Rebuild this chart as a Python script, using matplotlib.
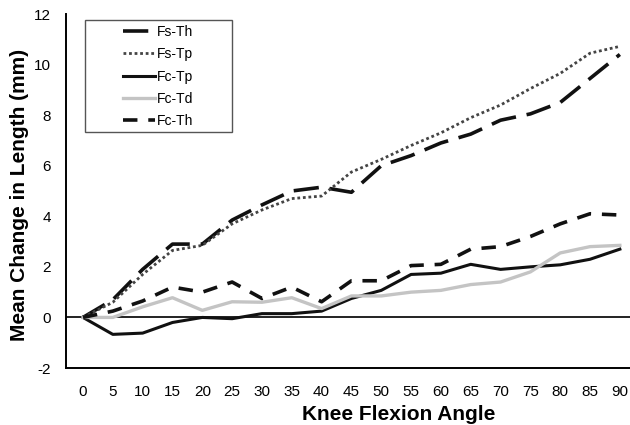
import matplotlib
matplotlib.use('Agg')
import matplotlib.pyplot as plt
from matplotlib.patches import Rectangle

plt.rcParams['font.family'] = ['Liberation Sans', 'DejaVu Sans']
plt.rcParams['axes.unicode_minus'] = False

# Datos
angles = ['0', '5', '10', '15', '20', '25', '30', '35', '40', '45',
          '50', '55', '60', '65', '70', '75', '80', '85', '90']
fs_th = [0, 0.7, 1.9, 2.9, 2.9, 3.85, 4.45, 5.0, 5.15, 4.95,
         6.0, 6.4, 6.9, 7.25, 7.8, 8.05, 8.5, 9.45, 10.4]
fs_tp = [0, 0.6, 1.7, 2.65, 2.85, 3.7, 4.25, 4.7, 4.8, 5.75,
         6.25, 6.8, 7.3, 7.9, 8.4, 9.05, 9.65, 10.45, 10.72]
fc_tp = [0, -0.67, -0.62, -0.2, 0.0, -0.05, 0.15, 0.15, 0.25, 0.75,
         1.07, 1.7, 1.75, 2.1, 1.9, 2.0, 2.08, 2.3, 2.7]
fc_td = [0, 0.0, 0.42, 0.78, 0.28, 0.62, 0.6, 0.78, 0.35, 0.85,
         0.85, 1.0, 1.07, 1.3, 1.4, 1.8, 2.55, 2.8, 2.85]
fc_th = [0, 0.25, 0.65, 1.2, 1.0, 1.4, 0.75, 1.2, 0.62, 1.45,
         1.45, 2.05, 2.1, 2.7, 2.8, 3.2, 3.7, 4.1, 4.05]

fig = plt.figure(figsize=(6.3, 4.25), dpi=100)
ax = fig.add_axes([66 / 630, (425 - 368) / 425, 564 / 630, 354 / 425])

x = list(range(len(angles)))
ax.plot(x, fs_th, color='#111111', lw=2.6, dashes=(7, 3), label='Fs-Th')
ax.plot(x, fs_tp, color='#444444', lw=2.0, dashes=(1, 1), label='Fs-Tp')
ax.plot(x, fc_tp, color='#111111', lw=2.2, label='Fc-Tp')
ax.plot(x, fc_td, color='#c4c4c4', lw=2.4, label='Fc-Td')
ax.plot(x, fc_th, color='#111111', lw=2.6, dashes=(4, 3), label='Fc-Th')

ax.axhline(0, color='#222222', lw=1.4, zorder=1)

ax.set_xlim(-0.57, 18.34)
ax.set_ylim(-2, 12)
ax.set_yticks(range(-2, 13, 2))
ax.set_xticks(x)
ax.set_xticklabels(angles)
ax.tick_params(axis='both', length=0, labelsize=11)
ax.tick_params(axis='x', pad=12)
ax.tick_params(axis='y', pad=11)

for s in ['top', 'right']:
    ax.spines[s].set_visible(False)
ax.spines['left'].set_linewidth(1.4)
ax.spines['bottom'].set_linewidth(1.4)

ax.set_xlabel('Knee Flexion Angle', fontsize=15, fontweight='bold')
ax.xaxis.set_label_coords(0.59, -0.105)
ax.set_ylabel('Mean Change in Length (mm)', fontsize=15, fontweight='bold')
ax.yaxis.set_label_coords(-0.066, 0.489)

# marco de la leyenda (más ancho que el contenido, como en el original)
frame = Rectangle((85 / 630, 1 - 132 / 425), 147 / 630, 112 / 425,
                  transform=fig.transFigure, facecolor='white',
                  edgecolor='#555555', lw=1.0, zorder=4)
ax.add_patch(frame)
frame.set_clip_on(False)

leg = ax.legend(loc='upper left', bbox_to_anchor=(123 / 630, 1 - 25 / 425),
                bbox_transform=fig.transFigure, frameon=False, fontsize=10,
                handlelength=2.3, handletextpad=0.15, borderpad=0,
                labelspacing=0.6, borderaxespad=0)
leg.set_zorder(5)

fig.savefig('out.png', dpi=100)
